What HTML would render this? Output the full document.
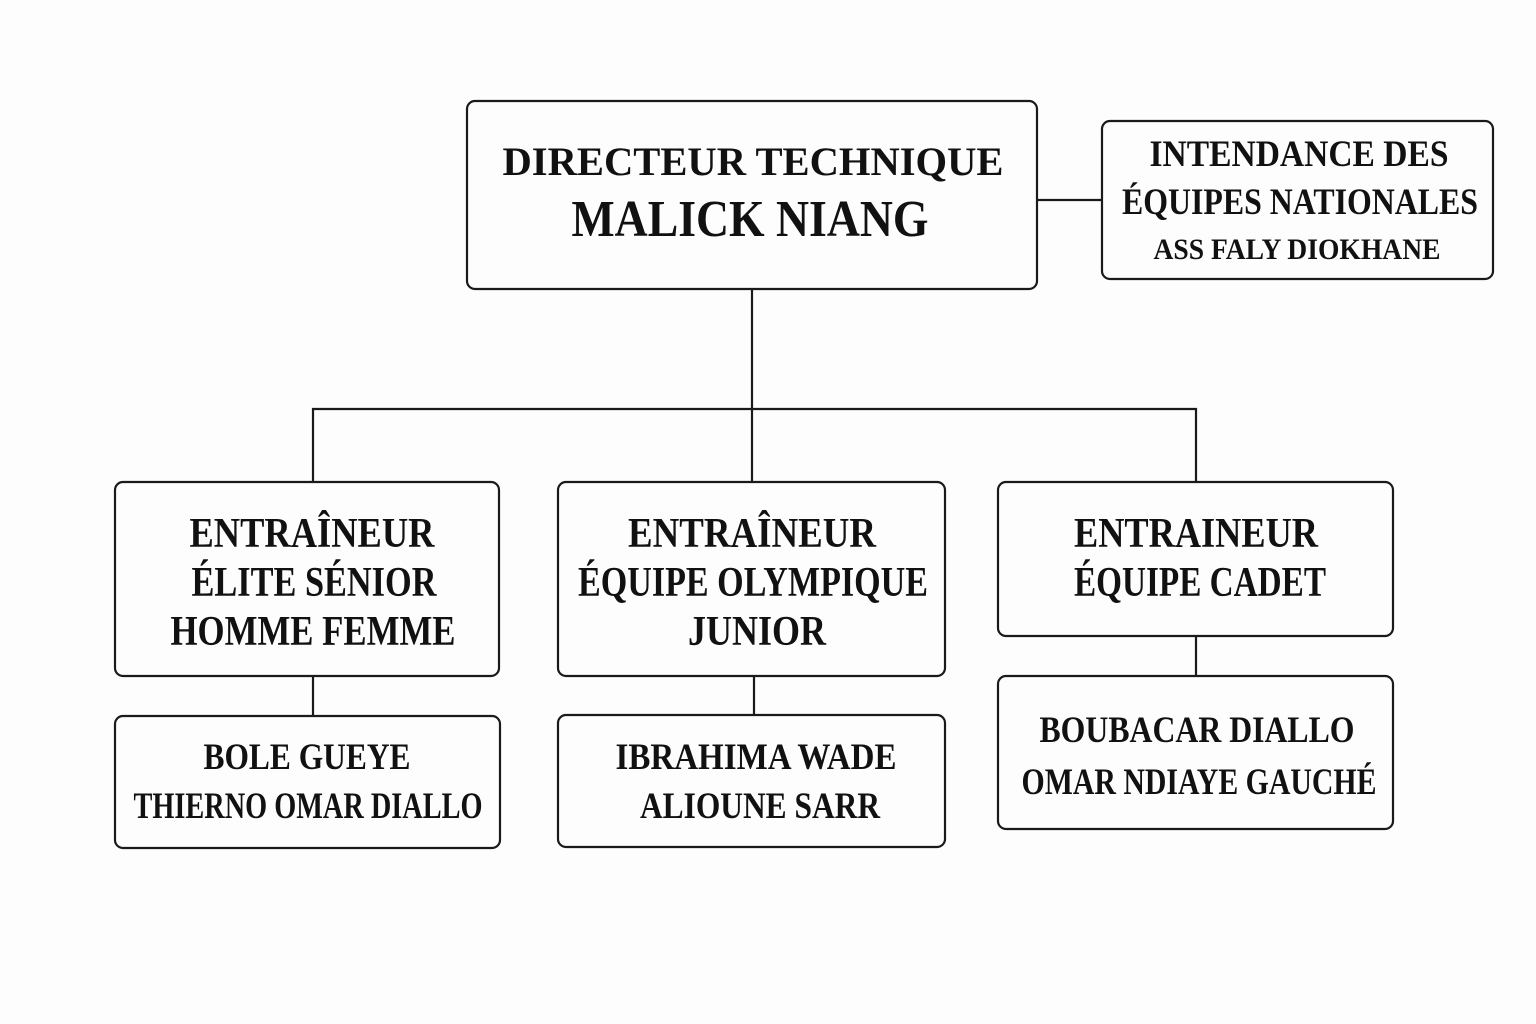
<!DOCTYPE html>
<html><head><meta charset="utf-8"><style>
html,body{margin:0;padding:0;background:#fdfdfd;}
svg{display:block}
text{font-family:"Liberation Serif",serif;font-weight:bold;fill:#111;text-anchor:middle}
</style></head><body>
<svg width="1536" height="1024" viewBox="0 0 1536 1024">
<rect width="1536" height="1024" fill="#fdfdfd"/>
<g fill="none" stroke="#1a1a1a" stroke-width="2.2">
<rect x="467" y="101" width="570" height="188" rx="8"/>
<rect x="1102" y="121" width="391" height="158" rx="8"/>
<rect x="115" y="482" width="384" height="194" rx="8"/>
<rect x="558" y="482" width="387" height="194" rx="8"/>
<rect x="998" y="482" width="395" height="154" rx="8"/>
<rect x="115" y="716" width="385" height="132" rx="8"/>
<rect x="558" y="715" width="387" height="132" rx="8"/>
<rect x="998" y="676" width="395" height="153" rx="8"/>
<path d="M1037 200H1102 M752 289V409 M313 482V409H1196V482 M752 409V482 M313 676V716 M754 676V715 M1196 636V676"/>
</g>
<text x="753" y="175" font-size="40" textLength="501" lengthAdjust="spacingAndGlyphs">DIRECTEUR TECHNIQUE</text>
<text x="750" y="236" font-size="52" textLength="357" lengthAdjust="spacingAndGlyphs">MALICK NIANG</text>
<text x="1299" y="166" font-size="37" textLength="299" lengthAdjust="spacingAndGlyphs">INTENDANCE DES</text>
<text x="1300" y="214" font-size="37" textLength="356" lengthAdjust="spacingAndGlyphs">ÉQUIPES NATIONALES</text>
<text x="1297" y="259" font-size="30" textLength="287" lengthAdjust="spacingAndGlyphs">ASS FALY DIOKHANE</text>

<text x="312" y="547" font-size="42" textLength="245" lengthAdjust="spacingAndGlyphs">ENTRAÎNEUR</text>
<text x="314" y="596" font-size="42" textLength="245" lengthAdjust="spacingAndGlyphs">ÉLITE SÉNIOR</text>
<text x="313" y="645" font-size="42" textLength="285" lengthAdjust="spacingAndGlyphs">HOMME FEMME</text>

<text x="752" y="547" font-size="42" textLength="248" lengthAdjust="spacingAndGlyphs">ENTRAÎNEUR</text>
<text x="753" y="596" font-size="42" textLength="350" lengthAdjust="spacingAndGlyphs">ÉQUIPE OLYMPIQUE</text>
<text x="757" y="645" font-size="42" textLength="138" lengthAdjust="spacingAndGlyphs">JUNIOR</text>

<text x="1196" y="547" font-size="42" textLength="244" lengthAdjust="spacingAndGlyphs">ENTRAINEUR</text>
<text x="1200" y="596" font-size="42" textLength="252" lengthAdjust="spacingAndGlyphs">ÉQUIPE CADET</text>

<text x="307" y="769" font-size="37" textLength="207" lengthAdjust="spacingAndGlyphs">BOLE GUEYE</text>
<text x="308" y="818" font-size="37" textLength="349" lengthAdjust="spacingAndGlyphs">THIERNO OMAR DIALLO</text>

<text x="756" y="769" font-size="37" textLength="281" lengthAdjust="spacingAndGlyphs">IBRAHIMA WADE</text>
<text x="760" y="818" font-size="37" textLength="240" lengthAdjust="spacingAndGlyphs">ALIOUNE SARR</text>

<text x="1197" y="742" font-size="37" textLength="315" lengthAdjust="spacingAndGlyphs">BOUBACAR DIALLO</text>
<text x="1199" y="794" font-size="37" textLength="355" lengthAdjust="spacingAndGlyphs">OMAR NDIAYE GAUCHÉ</text>
</svg>
</body></html>
